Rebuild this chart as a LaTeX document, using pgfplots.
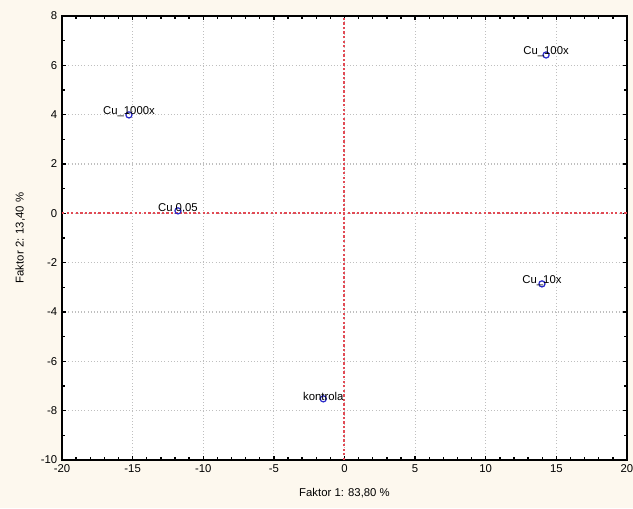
\documentclass[border=0pt]{standalone}
\usepackage{fontspec}
\setmainfont{Liberation Sans}
\usepackage{pgfplots}
\pgfplotsset{compat=1.18}
\definecolor{cream}{HTML}{FDF8EE}
\definecolor{redline}{RGB}{225,75,85}
\definecolor{ptblue}{RGB}{40,40,200}
\begin{document}
\begin{tikzpicture}[x=0.75pt,y=0.75pt]
\useasboundingbox (-62,-48) rectangle (571,460);
\fill[cream] (-62,-48) rectangle (571,460);
\begin{axis}[
  at={(0,0)}, anchor=south west,
  scale only axis, width=423.75pt, height=333pt,
  xmin=-20, xmax=20, ymin=-10, ymax=8,
  xtick={-20,-15,...,20}, ytick={-10,-8,...,8},
  minor x tick num=4, minor y tick num=1,
  tick align=inside,
  major tick length=3pt, minor tick length=2.2pt,
  every tick/.style={black, line width=1pt},
  axis line style={line width=1.6pt, black},
  axis background/.style={fill=white},
  grid=major,
  major grid style={gray!50, dotted, line width=0.8pt},
  font=\fontsize{8.5}{10}\selectfont,
  ticklabel style={font=\fontsize{8.5}{10}\selectfont},
  /pgf/number format/assume math mode=true,
  xlabel={Faktor 1: 83,80 \%},
  ylabel={Faktor 2: 13,40 \%},
  xlabel style={yshift=-5pt},
  ylabel style={yshift=5pt},
  clip=false,
]
\addplot[redline, line width=1.5pt, dash pattern=on 1.8pt off 1.6pt] coordinates {(0,-10) (0,8)};
\addplot[redline, line width=1.5pt, dash pattern=on 1.8pt off 1.6pt] coordinates {(-20,0) (20,0)};
\addplot[only marks, mark=o, mark size=2.3pt, mark options={ptblue, line width=0.9pt},
  point meta=explicit symbolic,
  nodes near coords,
  every node near coord/.append style={black, anchor=south, yshift=-3pt, inner sep=1pt, font=\fontsize{8.5}{10}\selectfont},
] table[meta=label] {
x y label
-15.26 3.99 Cu\_1000x
-11.79 0.10 {Cu 0,05}
14.27 6.42 Cu\_100x
13.98 -2.86 Cu\_10x
-1.50 -7.52 kontrola
};
\end{axis}
\end{tikzpicture}
\end{document}
